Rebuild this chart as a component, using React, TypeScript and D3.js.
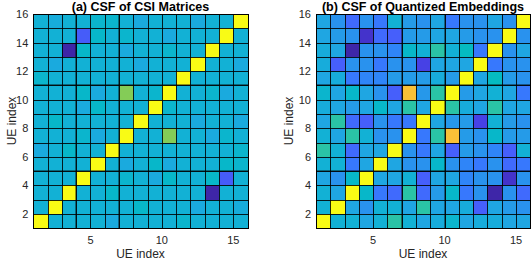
import React from "react";
import * as d3 from "d3";

// ---------- data ----------
const UE_DOMAIN = [1, 16];
const X_TICKS = [5, 10, 15];
const Y_TICKS = [2, 4, 6, 8, 10, 12, 14, 16];
const TITLES = ["(a) CSF of CSI Matrices", "(b) CSF of Quantized Embeddings"];
const AXIS_LABEL = "UE index";

// rows: UE 1 (bottom) .. UE 15 (top); columns: UE 1 .. UE 15
const CSF_CSI = [
  [1, .43, .43, .43, .43, .40, .43, .43, .43, .43, .45, .43, .43, .43, .43],
  [.43, 1, .43, .43, .43, .43, .43, .46, .43, .43, .43, .40, .43, .43, .41],
  [.43, .43, 1, .43, .43, .46, .43, .43, .43, .43, .43, .43, 0, .43, .43],
  [.43, .43, .43, 1, .43, .43, .45, .43, .40, .46, .43, .43, .46, .17, .43],
  [.43, .43, .43, .43, 1, .43, .40, .43, .46, .40, .43, .43, .43, .46, .45],
  [.40, .43, .46, .43, .43, 1, .43, .43, .43, .43, .43, .43, .43, .43, .45],
  [.43, .43, .43, .45, .40, .43, 1, .43, .43, .67, .43, .43, .40, .45, .43],
  [.43, .46, .43, .43, .43, .43, .43, 1, .43, .43, .43, .40, .43, .43, .40],
  [.43, .43, .43, .40, .46, .43, .43, .43, 1, .45, .43, .43, .43, .43, .43],
  [.43, .43, .43, .46, .40, .43, .67, .43, .45, 1, .43, .43, .45, .40, .43],
  [.45, .43, .43, .43, .43, .43, .43, .43, .43, .43, 1, .43, .43, .43, .43],
  [.43, .40, .43, .43, .43, .43, .43, .40, .43, .43, .43, 1, .43, .43, .40],
  [.43, .43, 0, .46, .43, .43, .40, .43, .43, .45, .43, .43, 1, .43, .43],
  [.43, .43, .43, .17, .46, .43, .45, .43, .43, .40, .43, .43, .43, 1, .43],
  [.43, .41, .43, .43, .45, .45, .43, .40, .43, .43, .43, .40, .43, .43, 1],
];

const CSF_EMB = [
  [1, .43, .43, .385, .43, .54, .43, .385, .41, .45, .385, .41, .41, .385, .385],
  [.43, 1, .385, .32, .43, .43, .385, .54, .385, .385, .41, .18, .385, .35, .32],
  [.43, .385, 1, .46, .245, .21, .54, .21, .35, .46, .245, .32, 0, .32, .21],
  [.385, .32, .46, 1, .385, .385, .43, .18, .385, .385, .28, .32, .32, .05, .32],
  [.43, .43, .245, .385, 1, .385, .32, .32, .46, .32, .28, .245, .32, .21, .245],
  [.54, .43, .21, .385, .385, 1, .32, .245, .385, .18, .35, .32, .28, .18, .43],
  [.43, .385, .54, .43, .32, .32, 1, .245, .54, .84, .35, .32, .46, .35, .35],
  [.385, .54, .21, .18, .32, .245, .245, 1, .385, .34, .35, .095, .43, .35, .32],
  [.41, .385, .35, .385, .46, .385, .54, .385, 1, .54, .41, .385, .54, .385, .385],
  [.45, .385, .46, .385, .32, .18, .84, .34, .54, 1, .35, .385, .43, .385, .245],
  [.385, .41, .245, .28, .28, .35, .35, .35, .41, .35, 1, .385, .48, .35, .32],
  [.41, .18, .32, .32, .245, .32, .32, .095, .385, .385, .385, 1, .245, .32, .32],
  [.41, .385, 0, .32, .32, .28, .46, .43, .54, .43, .48, .245, 1, .32, .385],
  [.385, .35, .32, .05, .21, .18, .35, .35, .385, .385, .35, .32, .32, 1, .32],
  [.385, .32, .21, .32, .245, .43, .35, .32, .385, .245, .32, .32, .385, .32, 1],
];

// darker seam lines visible in the rendering
const SEAMS_CSI_X = [4, 7];
const SEAMS_CSI_Y = [5, 11];
const SEAMS_EMB_X = [7, 10];
const SEAMS_EMB_Y = [5, 11];

// ---------- style ----------
const PARULA = [
  "#3e26a8", "#4432ca", "#4741e5", "#4852f4", "#4563fd", "#3875fe",
  "#2e87f7", "#2796eb", "#20a5e3", "#12b1d6", "#02bac3", "#24c1ae",
  "#37c897", "#57cc7a", "#81cc59", "#abc739", "#d1bf27", "#f0ba36",
  "#fec338", "#fad62d", "#f5e924", "#f9fb15",
];
const parula = d3.piecewise(d3.interpolateRgb, PARULA);
const FONT = "'Liberation Sans', Arial, Helvetica, sans-serif";
const W = 532, H = 260;
const TOP = 14, SIZE = 214.3;

function Panel({ x0, title, data, seamsX, seamsY, labelX }) {
  const xs = d3.scaleLinear().domain(UE_DOMAIN).range([x0, x0 + SIZE]);
  const ys = d3.scaleLinear().domain(UE_DOMAIN).range([TOP + SIZE, TOP]);
  const color = d3.scaleSequential(parula).domain(d3.extent(data.flat()));
  const px = (v) => Math.round(xs(v));
  const py = (v) => Math.round(ys(v));
  const edges = d3.range(UE_DOMAIN[0], UE_DOMAIN[1] + 1);
  const cells = [];
  data.forEach((row, r) =>
    row.forEach((v, c) => {
      const xa = px(c + 1), xb = px(c + 2), ya = py(r + 2), yb = py(r + 1);
      cells.push(
        <rect key={`${r}-${c}`} x={xa} y={ya} width={xb - xa} height={yb - ya} fill={color(v)} />
      );
    })
  );
  const xL = px(UE_DOMAIN[0]), xR = px(UE_DOMAIN[1]);
  const yT = py(UE_DOMAIN[1]), yB = py(UE_DOMAIN[0]);
  return (
    <g>
      {cells}
      {edges.map((e) => (
        <line key={`v${e}`} x1={px(e) + 0.5} x2={px(e) + 0.5} y1={yT} y2={yB} stroke="#000" strokeOpacity={0.85} strokeWidth={1} />
      ))}
      {edges.map((e) => (
        <line key={`h${e}`} y1={py(e) + 0.5} y2={py(e) + 0.5} x1={xL} x2={xR} stroke="#000" strokeOpacity={0.85} strokeWidth={1} />
      ))}
      {seamsX.map((e) => (
        <line key={`sx${e}`} x1={px(e)} x2={px(e)} y1={yT} y2={yB} stroke="#000" strokeOpacity={0.42} strokeWidth={2} />
      ))}
      {seamsY.map((e) => (
        <line key={`sy${e}`} y1={py(e)} y2={py(e)} x1={xL} x2={xR} stroke="#000" strokeOpacity={0.42} strokeWidth={2} />
      ))}
      <rect x={xL + 0.5} y={yT + 0.5} width={xR - xL} height={yB - yT} fill="none" stroke="#000" strokeWidth={1} />
      {X_TICKS.map((t) => (
        <text key={`xt${t}`} x={xs(t)} y={244} fontSize={11} fill="#262626" textAnchor="middle" fontFamily={FONT}>{t}</text>
      ))}
      {Y_TICKS.map((t) => (
        <text key={`yt${t}`} x={x0 - 5} y={ys(t)} dy="0.36em" fontSize={11} fill="#262626" textAnchor="end" fontFamily={FONT}>{t}</text>
      ))}
      <text x={(xL + xR) / 2} y={257.5} fontSize={12} fill="#262626" textAnchor="middle" fontFamily={FONT}>{AXIS_LABEL}</text>
      <text transform={`translate(${labelX},${(yT + yB) / 2}) rotate(-90)`} fontSize={12} fill="#262626" textAnchor="middle" fontFamily={FONT}>{AXIS_LABEL}</text>
      <text x={(xL + xR) / 2} y={10.5} fontSize={12.5} fontWeight="bold" fill="#000" textAnchor="middle" fontFamily={FONT}>{title}</text>
    </g>
  );
}

export default function App() {
  return (
    <svg width={W} height={H} style={{ position: "absolute", left: 0, top: 0, background: "#fff" }}>
      <rect width={W} height={H} fill="#fff" />
      <Panel x0={33.3} title={TITLES[0]} data={CSF_CSI} seamsX={SEAMS_CSI_X} seamsY={SEAMS_CSI_Y} labelX={16} />
      <Panel x0={316} title={TITLES[1]} data={CSF_EMB} seamsX={SEAMS_EMB_X} seamsY={SEAMS_EMB_Y} labelX={293} />
    </svg>
  );
}
